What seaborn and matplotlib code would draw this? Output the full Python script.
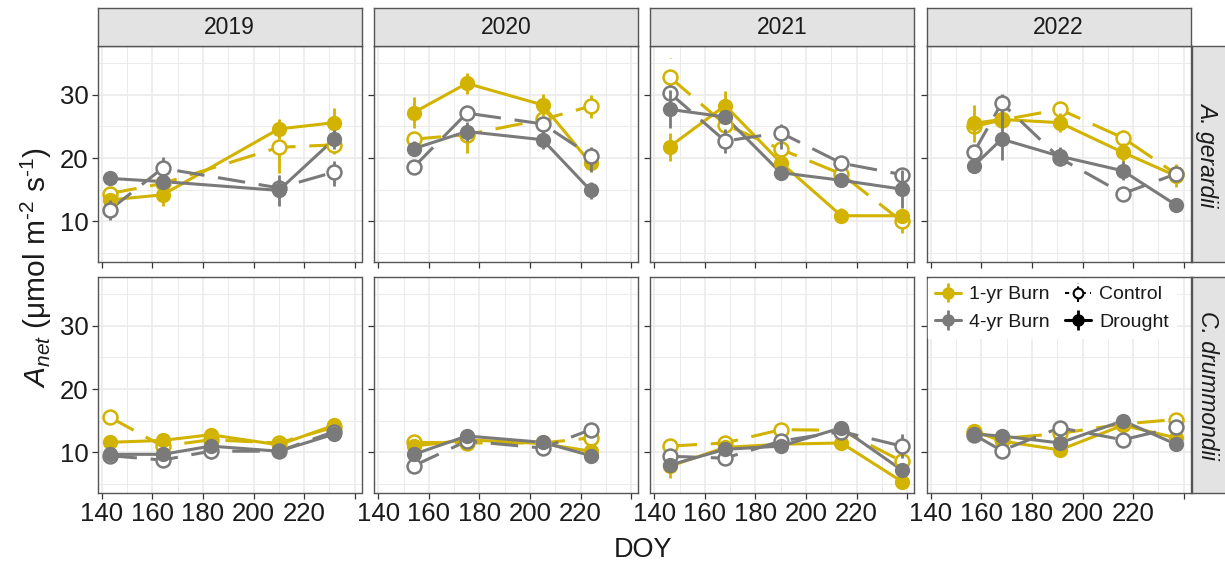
import numpy as np
import pandas as pd
import matplotlib
matplotlib.use("Agg")
import matplotlib.pyplot as plt
import seaborn as sns

# ---------------- data ----------------
YEARS = [2019, 2020, 2021, 2022]
SPECIES = ["A. gerardii", "C. drummondii"]
SITES = ["1-yr Burn", "4-yr Burn"]
TREATMENTS = ["Control", "Drought"]

# A. gerardii
AG_YEAR = [2019, 2019, 2019, 2019, 2020, 2020, 2020, 2020,
           2021, 2021, 2021, 2021, 2021, 2022, 2022, 2022, 2022, 2022]
AG_DOY = [143, 164, 210, 232, 154, 175, 205, 224,
          146, 168, 190, 214, 238, 157, 168, 191, 216, 237]
AG_B1_DRT = [13.4, 14.2, 24.6, 25.6, 27.2, 31.8, 28.4, 19.2,
             21.8, 28.3, 19.3, 10.9, 10.9, 25.5, 26.1, 25.6, 20.9, 17.2]
AG_B1_DRT_SE = [1.0, 1.8, 1.6, 2.3, 2.5, 1.6, 1.8, 1.2,
                2.2, 2.3, 1.0, 1.2, 1.0, 2.9, 1.0, 1.5, 1.5, 1.8]
AG_B1_CTL = [14.4, 16.0, 21.7, 22.1, 23.0, 23.7, 26.1, 28.2,
             32.8, 25.3, 21.4, 17.5, 10.0, 25.0, 26.0, 27.7, 23.2, 17.5]
AG_B1_CTL_SE = [1.0, 1.0, 4.0, 1.5, 1.0, 2.9, 1.0, 1.8,
                3.0, 1.5, 1.2, 1.0, 1.8, 1.0, 1.0, 2.8, 1.2, 1.0]
AG_B4_DRT = [16.8, 16.3, 14.9, 23.0, 21.5, 24.2, 22.9, 14.9,
             27.7, 26.5, 17.7, 16.5, 15.1, 18.8, 23.0, 20.3, 18.0, 12.6]
AG_B4_DRT_SE = [0.8, 1.2, 2.5, 1.5, 1.2, 1.5, 1.5, 1.3,
                3.0, 1.0, 1.0, 1.0, 3.0, 1.2, 3.3, 1.5, 1.5, 0.8]
AG_B4_CTL = [11.8, 18.4, 15.3, 17.8, 18.6, 27.1, 25.4, 20.4,
             30.3, 22.7, 24.0, 19.2, 17.4, 20.9, 28.7, 20.0, 14.4, 17.5]
AG_B4_CTL_SE = [1.6, 1.8, 1.0, 2.2, 0.8, 1.0, 1.0, 2.6,
                1.0, 1.9, 2.6, 1.0, 1.1, 1.0, 2.6, 1.0, 1.0, 0.8]

# C. drummondii
CD_YEAR = [2019, 2019, 2019, 2019, 2019, 2020, 2020, 2020, 2020,
           2021, 2021, 2021, 2021, 2021, 2022, 2022, 2022, 2022, 2022]
CD_DOY = [143, 164, 183, 210, 232, 154, 175, 205, 224,
          146, 168, 190, 214, 238, 157, 168, 191, 216, 237]
CD_B1_DRT = [11.6, 11.9, 12.8, 11.2, 14.3, 11.0, 12.0, 11.4, 10.2,
             7.8, 10.8, 11.3, 11.5, 5.4, 13.4, 11.8, 10.4, 14.3, 12.3]
CD_B1_DRT_SE = [0.7, 0.7, 0.7, 0.6, 0.7, 0.6, 0.7, 0.6, 0.7,
                1.8, 0.8, 0.7, 0.7, 0.8, 0.6, 0.7, 0.7, 0.7, 0.7]
CD_B1_CTL = [15.6, 11.0, 12.0, 11.5, 14.0, 11.6, 11.5, 11.5, 12.3,
             11.0, 11.5, 13.6, 13.5, 8.6, 13.2, 12.2, 13.0, 14.5, 15.2]
CD_B1_CTL_SE = [0.7, 0.6, 0.7, 0.6, 0.6, 0.6, 0.6, 0.6, 0.7,
                0.6, 0.7, 0.7, 0.6, 0.8, 0.6, 0.6, 0.7, 0.7, 0.7]
CD_B4_DRT = [9.7, 9.7, 11.0, 10.2, 12.9, 9.7, 12.6, 11.6, 9.5,
             8.0, 10.5, 11.0, 13.9, 7.2, 12.9, 12.6, 11.5, 15.0, 11.3]
CD_B4_DRT_SE = [0.6, 0.7, 0.7, 0.6, 0.6, 0.7, 0.6, 0.6, 0.6,
                0.8, 0.7, 0.6, 0.7, 0.8, 0.6, 0.6, 0.7, 0.7, 0.6]
CD_B4_CTL = [9.5, 8.8, 10.2, 10.2, 13.3, 7.9, 11.8, 10.7, 13.6,
             9.4, 9.1, 11.8, 13.3, 11.0, 12.8, 10.3, 13.9, 12.0, 14.0]
CD_B4_CTL_SE = [0.6, 0.7, 1.3, 0.6, 0.7, 0.6, 0.6, 0.6, 0.7,
                0.6, 0.7, 0.7, 0.6, 1.9, 0.6, 0.6, 0.7, 0.6, 0.7]

X_TICKS = [140, 160, 180, 200, 220, 240]
X_TICK_LABELS = ["140", "160", "180", "200", "220", ""]
Y_TICKS = [10, 20, 30]

# ---------------- long table ----------------
rows = []
for sp, yrs, doys, series in [
    ("A. gerardii", AG_YEAR, AG_DOY,
     [("1-yr Burn", "Drought", AG_B1_DRT, AG_B1_DRT_SE),
      ("1-yr Burn", "Control", AG_B1_CTL, AG_B1_CTL_SE),
      ("4-yr Burn", "Drought", AG_B4_DRT, AG_B4_DRT_SE),
      ("4-yr Burn", "Control", AG_B4_CTL, AG_B4_CTL_SE)]),
    ("C. drummondii", CD_YEAR, CD_DOY,
     [("1-yr Burn", "Drought", CD_B1_DRT, CD_B1_DRT_SE),
      ("1-yr Burn", "Control", CD_B1_CTL, CD_B1_CTL_SE),
      ("4-yr Burn", "Drought", CD_B4_DRT, CD_B4_DRT_SE),
      ("4-yr Burn", "Control", CD_B4_CTL, CD_B4_CTL_SE)])]:
    for site, trt, vals, ses in series:
        for y, d, v, s in zip(yrs, doys, vals, ses):
            rows.append(dict(Species=sp, Year=y, DOY=d, Site=site,
                             Treatment=trt, Anet=v, SE=s))
df = pd.DataFrame(rows)

# ---------------- style ----------------
sns.set_theme(style="white")
plt.rcParams["font.family"] = ["Liberation Sans", "DejaVu Sans"]
plt.rcParams["mathtext.fontset"] = "custom"
plt.rcParams["mathtext.rm"] = "Liberation Sans"
plt.rcParams["mathtext.it"] = "Liberation Sans:italic"

GOLD = "#D1B300"
GREY = "#7A7A7A"
PALETTE = {"1-yr Burn": GOLD, "4-yr Burn": GREY}
DASH = (9, 4.5)
LW = 2.2
BORDER = "#555555"
GRID = "#EBEBEB"
STRIP = "#E3E3E3"
TXT = "#1a1a1a"

W, H = 1225, 571
fig = plt.figure(figsize=(W / 100, H / 100), dpi=100)


def rect(l, t, r, b):
    return [l / W, 1 - b / H, (r - l) / W, (b - t) / H]


col_l = [97.5, 374.0, 650.0, 926.5]
col_w = 264.0
row_t = [46.0, 277.0]
row_b = [262.0, 493.0]

XLIM = (138.25, 242.75)
YLIM = (3.6, 37.7)

axes = {}
for r, sp in enumerate(SPECIES):
    for c, yr in enumerate(YEARS):
        ax = fig.add_axes(rect(col_l[c], row_t[r], col_l[c] + col_w, row_b[r]))
        axes[(r, c)] = ax
        sub = df[(df.Species == sp) & (df.Year == yr)]
        sns.lineplot(data=sub, x="DOY", y="Anet", hue="Site", style="Treatment",
                     hue_order=SITES, style_order=TREATMENTS, palette=PALETTE,
                     dashes={"Control": DASH, "Drought": ""},
                     estimator=None, sort=True, linewidth=LW, legend=False,
                     ax=ax, zorder=2)
        z = 3
        for site in SITES:
            for trt in TREATMENTS:
                s = sub[(sub.Site == site) & (sub.Treatment == trt)]
                col = PALETTE[site]
                ls = (0, DASH) if trt == "Control" else "solid"
                ax.vlines(s.DOY, s.Anet - s.SE, s.Anet + s.SE, colors=col,
                          linewidth=2.0, linestyles=[ls], zorder=z)
                if trt == "Control":
                    ax.plot(s.DOY, s.Anet, "o", ms=10, mfc="white", mec=col,
                            mew=1.8, ls="none", zorder=z + 0.5)
                else:
                    ax.plot(s.DOY, s.Anet, "o", ms=11, mfc=col, mec=col,
                            mew=0, ls="none", zorder=z + 0.5)
                z += 1

        ax.set_xlim(*XLIM)
        ax.set_ylim(*YLIM)
        ax.set_xticks(X_TICKS)
        ax.set_xticks([150, 170, 190, 210, 230], minor=True)
        ax.set_yticks(Y_TICKS)
        ax.set_yticks([5, 15, 25, 35], minor=True)
        ax.grid(which="major", color=GRID, lw=1.2)
        ax.grid(which="minor", color=GRID, lw=0.7)
        ax.set_axisbelow(True)
        ax.set_xlabel("")
        ax.set_ylabel("")
        ax.set_facecolor("white")
        for sp_ in ax.spines.values():
            sp_.set_color(BORDER)
            sp_.set_linewidth(1.0)
        ax.tick_params(which="major", direction="out", length=4, width=0.9,
                       color="#333333", labelsize=18.5, labelcolor=TXT, pad=2.5,
                       bottom=True, left=True)
        ax.tick_params(which="minor", length=0)
        if r == 1:
            ax.set_xticklabels(X_TICK_LABELS)
        else:
            ax.set_xticklabels([])
        if c == 0:
            ax.set_yticklabels([str(v) for v in Y_TICKS])
        else:
            ax.set_yticklabels([])

# strips on top
for c, yr in enumerate(YEARS):
    sax = fig.add_axes(rect(col_l[c], 8.0, col_l[c] + col_w, 46.0))
    sax.set_facecolor(STRIP)
    sax.set_xticks([]); sax.set_yticks([])
    for sp_ in sax.spines.values():
        sp_.set_color(BORDER); sp_.set_linewidth(1.0)
    sax.text(0.5, 0.5, str(yr), ha="center", va="center", fontsize=16.5,
             color=TXT, transform=sax.transAxes)

# strips on right
for r, sp in enumerate(SPECIES):
    sax = fig.add_axes(rect(1191.5, row_t[r], 1227.0, row_b[r]))
    sax.set_facecolor(STRIP)
    sax.set_xticks([]); sax.set_yticks([])
    for sp_ in sax.spines.values():
        sp_.set_color(BORDER); sp_.set_linewidth(1.0)
    sax.text(0.45, 0.5, sp, ha="center", va="center", fontsize=16.5,
             style="italic", rotation=-90, color=TXT, transform=sax.transAxes)

# legend in bottom-right panel
lax = axes[(1, 3)]
dummy = fig.add_axes([0, 0, 0.001, 0.001])
dummy.set_visible(False)
h_b1 = dummy.errorbar([1], [1], yerr=[1], color=GOLD, marker="o", ms=8,
                      lw=LW, elinewidth=2.0)
h_b4 = dummy.errorbar([1], [1], yerr=[1], color=GREY, marker="o", ms=8,
                      lw=LW, elinewidth=2.0)
h_ctl = dummy.errorbar([1], [1], yerr=[1], color="black", marker="o", ms=7,
                       mfc="white", mec="black", mew=1.5, lw=1.5,
                       ls=(0, (2, 2)), elinewidth=1.5)
h_ctl[2][0].set_linestyle((0, (1.5, 1.5)))
h_drt = dummy.errorbar([1], [1], yerr=[1], color="black", marker="o", ms=8,
                       lw=LW, elinewidth=2.0)
leg = lax.legend([h_b1, h_b4, h_ctl, h_drt],
                 ["1-yr Burn", "4-yr Burn", "Control", "Drought"],
                 ncol=2, loc="upper left", bbox_to_anchor=(0.0, 1.0),
                 fontsize=14, frameon=True, facecolor="white", edgecolor="white",
                 framealpha=1.0, fancybox=False, borderaxespad=0.1,
                 handlelength=1.3, handletextpad=0.45, columnspacing=0.8,
                 labelspacing=0.5, borderpad=0.35)
leg.set_zorder(20)
for t in leg.get_texts():
    t.set_color(TXT)

# axis titles
fig.text(36 / W, 1 - 268 / H,
         r"$A_{net}$ (μmol m$^{\text{-2}}$ s$^{\text{-1}}$)",
         rotation=90, ha="center", va="center", fontsize=21.5, color=TXT)
fig.text(643 / W, 1 - 550 / H, "DOY", ha="center", va="center",
         fontsize=19.5, color=TXT)

fig.savefig("out.png", dpi=100, facecolor="white")
